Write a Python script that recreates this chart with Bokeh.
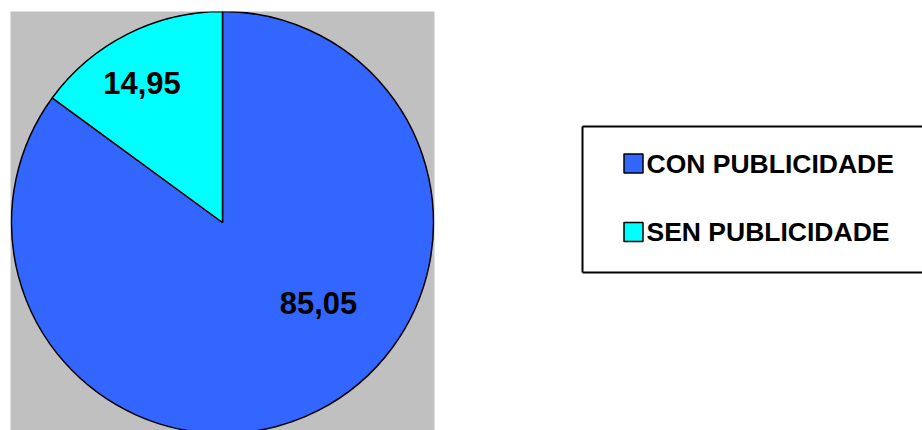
import math
from bokeh.plotting import figure
from bokeh.layouts import row
from bokeh.models import Range1d, ColumnDataSource
from bokeh.core.properties import value
from bokeh.embed import file_html
from bokeh.resources import INLINE

# ---- data ----
categories = ["CON PUBLICIDADE", "SEN PUBLICIDADE"]
values = [85.05, 14.95]
value_labels = ["85,05", "14,95"]
colors = ["#3366FF", "#00FFFF"]

# ---- layout / style constants ----
FONT = "Liberation Sans"
PIE_R = 211
LABEL_DX = [96, -80.5]      # label offsets from pie centre (px)
LABEL_DY = [-80, 139.5]
LEG_X_SWATCH = 197
LEG_X_TEXT = 210
LEG_Y0 = 267
LEG_DY = 68.5
BOX_L, BOX_R, BOX_T, BOX_B = 146, 500, 304, 158

total = sum(values)
starts, ends = [], []
cum = 0.0
for v in values:
    starts.append(math.radians(90 - cum / total * 360))
    cum += v
    ends.append(math.radians(90 - cum / total * 360))

src = ColumnDataSource(dict(
    cat=categories, val=values, start=starts, end=ends, color=colors,
    lab=value_labels, lx=LABEL_DX, ly=LABEL_DY,
    legy=[LEG_Y0 - i * LEG_DY for i in range(len(categories))],
))

p1 = figure(width=436, height=430, x_range=Range1d(-212, 212), y_range=Range1d(-208, 211),
            output_backend="svg", toolbar_location=None,
            x_axis_type=None, y_axis_type=None,
            min_border_left=10, min_border_right=2, min_border_top=11, min_border_bottom=0)
p1.title.visible = False
p1.grid.visible = False
p1.outline_line_color = None
p1.background_fill_color = "#C0C0C0"
p1.border_fill_color = "white"
p1.wedge(x=0, y=0, radius=PIE_R, start_angle="start", end_angle="end", direction="clock",
         fill_color="color", line_color="black", line_width=1.5, source=src)
p1.text(x="lx", y="ly", text="lab", text_font=value(FONT), text_font_style="bold",
        text_font_size="31px", text_align="center", text_baseline="middle",
        text_color="black", source=src)

# frame of p2 is aligned with p1's (top border 11 px), so it spans page y 11..430
p2 = figure(width=486, height=430, x_range=Range1d(0, 486), y_range=Range1d(0, 419),
            output_backend="svg", toolbar_location=None,
            x_axis_type=None, y_axis_type=None,
            min_border_left=0, min_border_right=0, min_border_top=11, min_border_bottom=0)
p2.title.visible = False
p2.grid.visible = False
p2.outline_line_color = None
p2.background_fill_color = "white"
p2.border_fill_color = "white"
# legend frame (open on the right, where the window cuts it)
p2.segment(x0=[BOX_L, BOX_L, BOX_L], y0=[BOX_B, BOX_T, BOX_B],
           x1=[BOX_L, BOX_R, BOX_R], y1=[BOX_T, BOX_T, BOX_B],
           line_color="black", line_width=2)
p2.scatter(x=LEG_X_SWATCH, y="legy", marker="square", size=19, fill_color="color",
           line_color="black", line_width=1.5, source=src)
p2.text(x=LEG_X_TEXT, y="legy", text="cat", text_font=value(FONT), text_font_style="bold",
        text_font_size="26.5px", text_align="left", text_baseline="middle",
        text_color="black", source=src)

layout = row(p1, p2)
open("out.html", "w").write(file_html(layout, INLINE))
